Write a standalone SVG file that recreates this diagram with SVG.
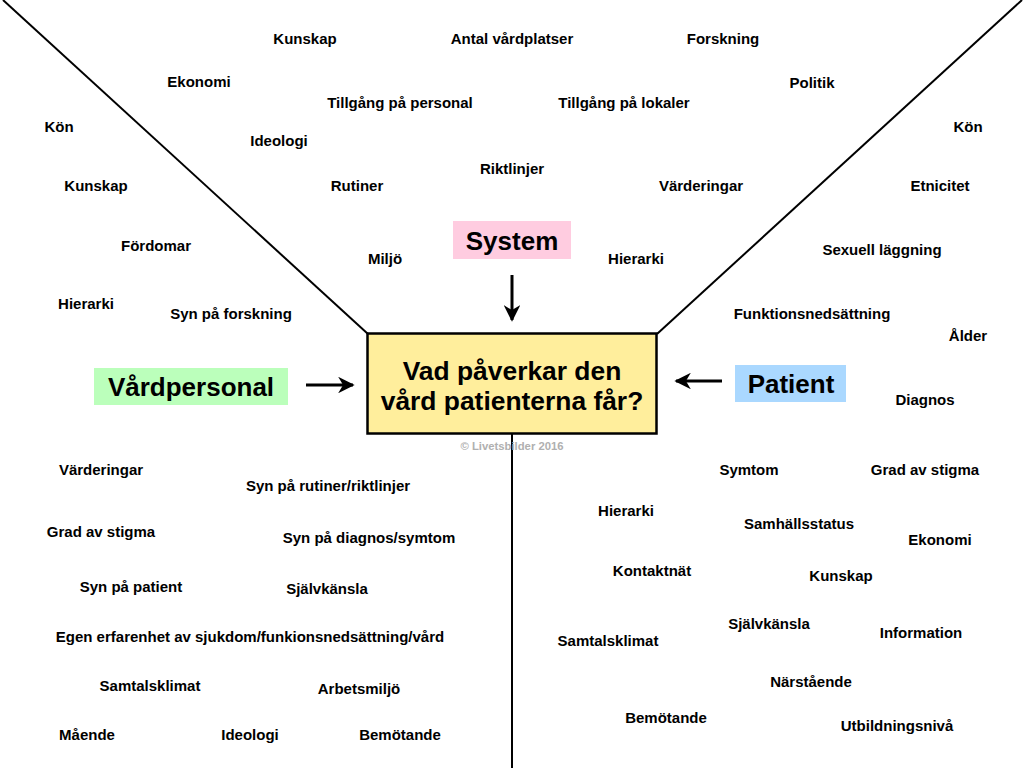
<svg xmlns="http://www.w3.org/2000/svg" width="1024" height="768" viewBox="0 0 1024 768">
<defs>
<style>
.t{font-family:"Liberation Sans",Arial,sans-serif;font-weight:bold;font-size:15px;fill:#000;text-anchor:middle}
.big{font-family:"Liberation Sans",Arial,sans-serif;font-weight:bold;font-size:26px;fill:#000;text-anchor:middle}
.title{font-family:"Liberation Sans",Arial,sans-serif;font-weight:bold;font-size:26.4px;fill:#000;text-anchor:middle}
.wm{font-family:"Liberation Sans",Arial,sans-serif;font-weight:bold;font-size:11.3px;fill:#b0b0b0;text-anchor:middle}
.ln{stroke:#000;stroke-width:2;fill:none}
.ar{stroke:#000;stroke-width:3;fill:none}
</style>
<marker id="ah" viewBox="0 0 10 10" refX="9" refY="5" markerWidth="5.5" markerHeight="5.5" orient="auto" markerUnits="strokeWidth">
<path d="M0,0 L10,5 L0,10 L3,5 Z" fill="#000"/>
</marker>
</defs>
<rect width="1024" height="768" fill="#fff"/>
<g id="connectors">
<line class="ln" x1="3" y1="0" x2="368" y2="334"/>
<line class="ln" x1="1022" y1="0" x2="657" y2="334"/>
<line class="ln" x1="512" y1="434" x2="512" y2="768" stroke-width="2.5"/>
<line class="ar" x1="512" y1="275" x2="512" y2="320" marker-end="url(#ah)"/>
<line class="ar" x1="306" y1="385" x2="353" y2="385" marker-end="url(#ah)"/>
<line class="ar" x1="722" y1="381" x2="676" y2="381" marker-end="url(#ah)"/>
</g>
<g id="question">
<rect x="367.5" y="333.5" width="289" height="100" fill="#ffee9c" stroke="#000" stroke-width="2.5"/>
<text class="title" x="512" y="380">Vad påverkar den</text>
<text class="title" x="512" y="410">vård patienterna får?</text>
</g>
<text class="wm" x="512" y="450">© Livetsbilder 2016</text>
<g id="system">
<rect x="453" y="221" width="118" height="38" fill="#ffcce0"/>
<text class="big" x="512" y="250">System</text>
</g>
<g id="vardpersonal">
<rect x="94" y="368" width="194" height="37" fill="#bbffbb"/>
<text class="big" x="191" y="396">Vårdpersonal</text>
</g>
<g id="patient">
<rect x="735" y="365" width="111" height="37" fill="#aad8ff"/>
<text class="big" x="791" y="393">Patient</text>
</g>
<g id="system-factors">
<text class="t" x="305" y="44">Kunskap</text>
<text class="t" x="512" y="44">Antal vårdplatser</text>
<text class="t" x="723" y="44">Forskning</text>
<text class="t" x="199" y="87">Ekonomi</text>
<text class="t" x="812" y="88">Politik</text>
<text class="t" x="400" y="108">Tillgång på personal</text>
<text class="t" x="624" y="108">Tillgång på lokaler</text>
<text class="t" x="279" y="146">Ideologi</text>
<text class="t" x="512" y="174">Riktlinjer</text>
<text class="t" x="357" y="191">Rutiner</text>
<text class="t" x="701" y="191">Värderingar</text>
<text class="t" x="385" y="264">Miljö</text>
<text class="t" x="636" y="264">Hierarki</text>
</g>
<g id="left-factors">
<text class="t" x="59" y="132">Kön</text>
<text class="t" x="96" y="191">Kunskap</text>
<text class="t" x="156" y="251">Fördomar</text>
<text class="t" x="86" y="309">Hierarki</text>
<text class="t" x="231" y="319">Syn på forskning</text>
</g>
<g id="right-factors">
<text class="t" x="968" y="132">Kön</text>
<text class="t" x="940" y="191">Etnicitet</text>
<text class="t" x="882" y="255">Sexuell läggning</text>
<text class="t" x="812" y="319">Funktionsnedsättning</text>
<text class="t" x="968" y="341">Ålder</text>
<text class="t" x="925" y="405">Diagnos</text>
</g>
<g id="personal-factors">
<text class="t" x="101" y="475">Värderingar</text>
<text class="t" x="328" y="491">Syn på rutiner/riktlinjer</text>
<text class="t" x="101" y="537">Grad av stigma</text>
<text class="t" x="369" y="543">Syn på diagnos/symtom</text>
<text class="t" x="131" y="592">Syn på patient</text>
<text class="t" x="327" y="594">Självkänsla</text>
<text class="t" x="250" y="642">Egen erfarenhet av sjukdom/funkionsnedsättning/vård</text>
<text class="t" x="150" y="691">Samtalsklimat</text>
<text class="t" x="359" y="694">Arbetsmiljö</text>
<text class="t" x="87" y="740">Mående</text>
<text class="t" x="250" y="740">Ideologi</text>
<text class="t" x="400" y="740">Bemötande</text>
</g>
<g id="patient-factors">
<text class="t" x="749" y="475">Symtom</text>
<text class="t" x="925" y="475">Grad av stigma</text>
<text class="t" x="626" y="516">Hierarki</text>
<text class="t" x="799" y="529">Samhällsstatus</text>
<text class="t" x="940" y="545">Ekonomi</text>
<text class="t" x="652" y="576">Kontaktnät</text>
<text class="t" x="841" y="581">Kunskap</text>
<text class="t" x="769" y="629">Självkänsla</text>
<text class="t" x="921" y="638">Information</text>
<text class="t" x="608" y="646">Samtalsklimat</text>
<text class="t" x="811" y="687">Närstående</text>
<text class="t" x="666" y="723">Bemötande</text>
<text class="t" x="897" y="731">Utbildningsnivå</text>
</g>
</svg>
